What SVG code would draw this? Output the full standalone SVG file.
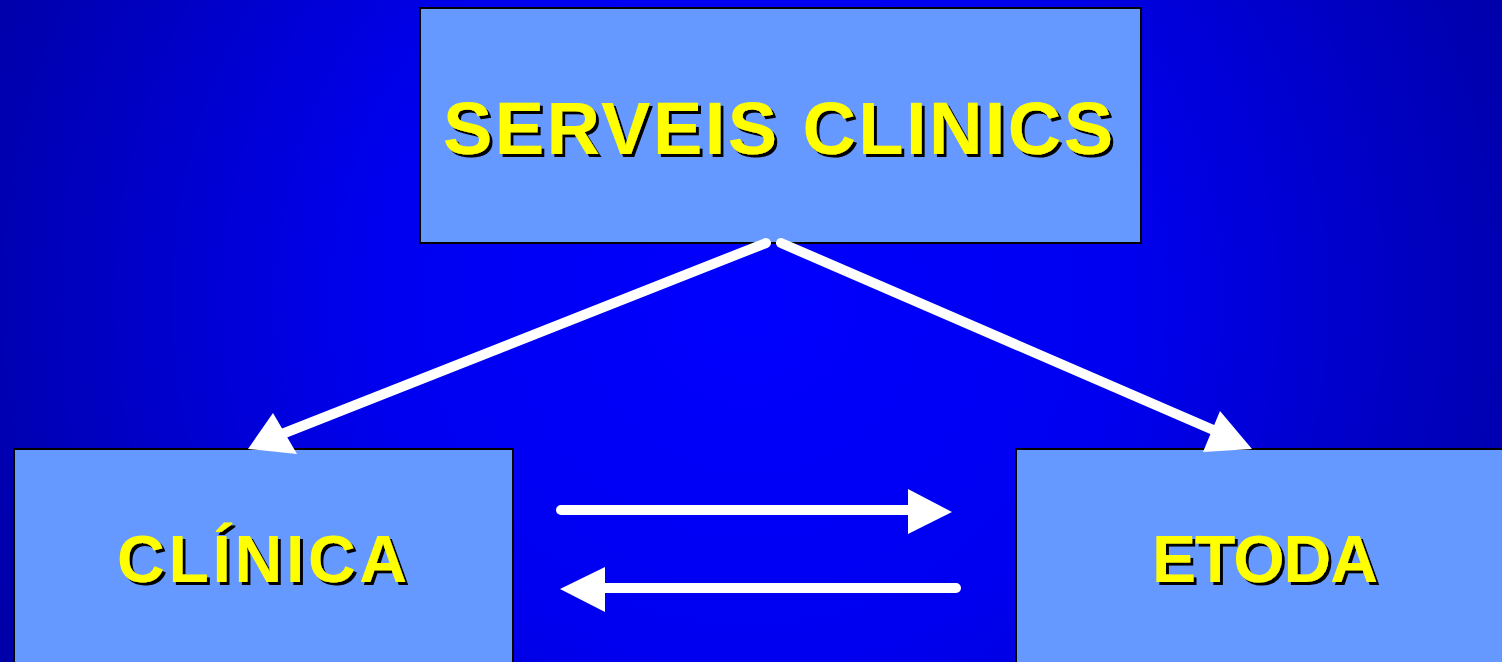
<svg xmlns="http://www.w3.org/2000/svg" width="1502" height="662" viewBox="0 0 1502 662">
<defs>
<radialGradient id="bg" cx="750" cy="300" r="820" gradientUnits="userSpaceOnUse">
<stop offset="0" stop-color="#0000ff"/>
<stop offset="0.45" stop-color="#0000f0"/>
<stop offset="1" stop-color="#0000a8"/>
</radialGradient>
<filter id="sh" x="-5%" y="-20%" width="110%" height="140%">
<feOffset in="SourceAlpha" dx="3" dy="3" result="o"/>
<feMerge><feMergeNode in="o"/><feMergeNode in="SourceGraphic"/></feMerge>
</filter>
<style>
.box{fill:#6699ff;stroke:#000;stroke-width:2}
.t{font-family:"Liberation Sans",Arial,sans-serif;font-weight:bold;fill:#ffff00;filter:url(#sh)}
.ln{stroke:#fff;stroke-width:10;stroke-linecap:round;fill:none}
.hd{fill:#fff}
</style>
</defs>
<rect width="1502" height="662" fill="url(#bg)"/>
<g id="node-serveis">
<rect class="box" x="420" y="8" width="721" height="235"/>
<text class="t" x="443" y="154" font-size="74" textLength="670" lengthAdjust="spacing">SERVEIS CLINICS</text>
</g>
<g id="node-clinica">
<rect class="box" x="14" y="449" width="499" height="220"/>
<text class="t" x="117" y="582" font-size="66" textLength="290" lengthAdjust="spacing">CLÍNICA</text>
</g>
<g id="node-etoda">
<rect class="box" x="1016" y="449" width="495" height="220"/>
<text class="t" x="1152" y="582" font-size="66" textLength="226" lengthAdjust="spacing">ETODA</text>
</g>
<g id="connectors">
<line class="ln" x1="766" y1="243" x2="282" y2="434"/>
<polygon class="hd" points="248,449 273,413 297,454"/>
<line class="ln" x1="781" y1="243" x2="1218" y2="432"/>
<polygon class="hd" points="1252,449 1220,411 1203,452"/>
<line class="ln" x1="561" y1="510" x2="912" y2="510"/>
<polygon class="hd" points="952,512 908,489 908,534"/>
<line class="ln" x1="956" y1="588" x2="600" y2="588"/>
<polygon class="hd" points="560,589 605,567 605,612"/>
</g>
</svg>
